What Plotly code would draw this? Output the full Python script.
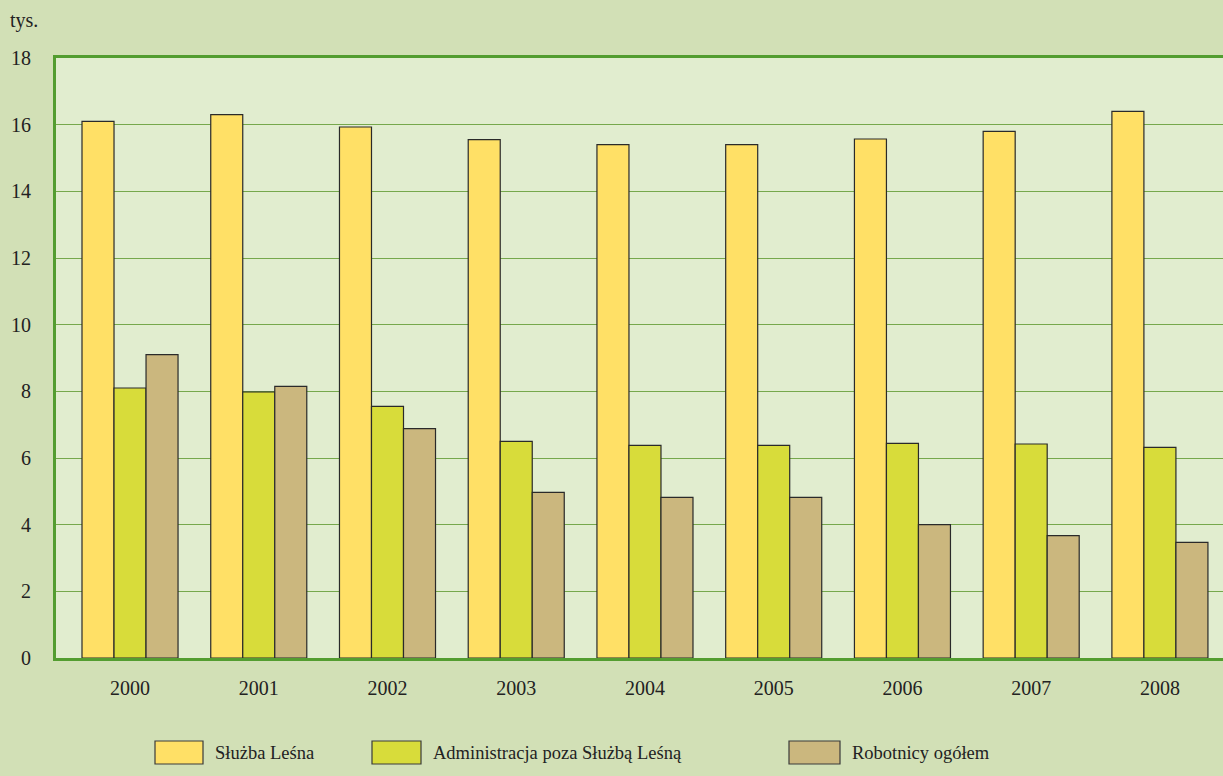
import plotly.graph_objects as go

years = ["2000", "2001", "2002", "2003", "2004", "2005", "2006", "2007", "2008"]
series_names = ["Służba Leśna", "Administracja poza Służbą Leśną", "Robotnicy ogółem"]
sluzba = [16.1, 16.3, 15.93, 15.55, 15.4, 15.4, 15.57, 15.8, 16.4]
admin = [8.1, 7.98, 7.55, 6.5, 6.38, 6.38, 6.44, 6.42, 6.32]
robotnicy = [9.1, 8.15, 6.88, 4.97, 4.82, 4.82, 4.0, 3.67, 3.47]
colors = ["#ffe066", "#d8dc3a", "#cbb77e"]
y_ticks = [0, 2, 4, 6, 8, 10, 12, 14, 16, 18]

FONT = "Liberation Serif"
fig = go.Figure()
for name, vals, col in zip(series_names, [sluzba, admin, robotnicy], colors):
    fig.add_trace(go.Bar(
        x=list(range(len(years))), y=vals, name=name,
        marker=dict(color=col, line=dict(color="#2a2a2a", width=1.2)),
        showlegend=False,
    ))

W, H = 1223, 776
L, R, T, B = 56, 0, 58, 118
pw, ph = W - L - R, H - T - B

def px_x(X):
    return (X - L) / pw

def px_y(Y):
    return (H - B - Y) / ph

# custom legend (wide boxes like the reference)
legend_boxes = [(155, 203), (372, 421), (789, 840)]
shapes = []
annotations = []
ly0, ly1 = 741, 764
for (x0, x1), name, col in zip(legend_boxes, series_names, colors):
    shapes.append(dict(type="rect", xref="paper", yref="paper",
                       x0=px_x(x0), x1=px_x(x1), y0=px_y(ly1), y1=px_y(ly0),
                       fillcolor=col, line=dict(color="#3a3a3a", width=1.2)))
    annotations.append(dict(xref="paper", yref="paper", x=px_x(x1 + 10), y=px_y((ly0 + ly1) / 2),
                            text=name, showarrow=False, xanchor="left", yanchor="middle",
                            font=dict(family=FONT, size=18.5, color="#222222")))

annotations.append(dict(xref="paper", yref="paper", x=px_x(8), y=px_y(20), text="tys.",
                        showarrow=False, xanchor="left", yanchor="middle",
                        font=dict(family=FONT, size=20, color="#222222")))

fig.update_layout(
    width=W, height=H,
    margin=dict(l=L, r=R, t=T, b=B),
    paper_bgcolor="#d2e0b6",
    plot_bgcolor="#e1edcf",
    barmode="group",
    bargap=0.254,
    bargroupgap=0,
    font=dict(family=FONT, size=20, color="#222222"),
    shapes=shapes,
    annotations=annotations,
    xaxis=dict(
        range=[-0.575, 8.49],
        tickmode="array", tickvals=list(range(len(years))), ticktext=years,
        showgrid=False, zeroline=False,
        showline=True, linecolor="#539d30", linewidth=3, mirror=True,
        ticks="", ticklabelstandoff=10,
        tickfont=dict(family=FONT, size=20, color="#222222"),
    ),
    yaxis=dict(
        range=[0, 18],
        tickmode="array", tickvals=y_ticks,
        showgrid=True, gridcolor="#76a84c", gridwidth=1.2,
        zeroline=False,
        showline=True, linecolor="#539d30", linewidth=3,
        ticks="", ticklabelstandoff=18,
        tickfont=dict(family=FONT, size=20, color="#222222"),
    ),
)

fig.write_html(
    "out.html",
    config={"displayModeBar": False},
    post_script="document.body.style.margin='0px';document.body.style.overflow='hidden';",
)
